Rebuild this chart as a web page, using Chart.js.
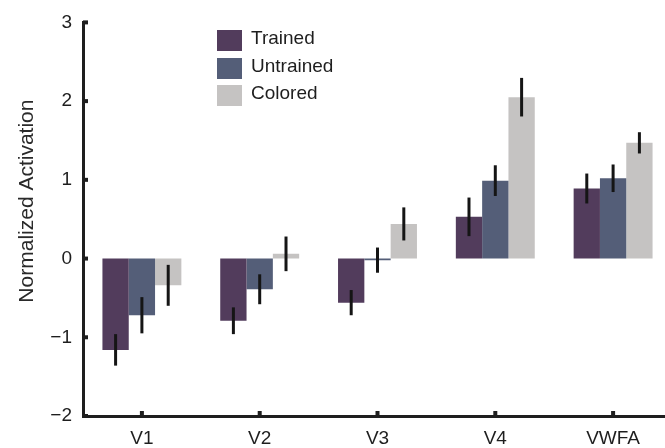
<!DOCTYPE html>
<html>
<head>
<meta charset="utf-8">
<script src="https://cdn.jsdelivr.net/npm/chart.js@4.4.0/dist/chart.umd.min.js"></script>
<style>
html,body{margin:0;padding:0;background:#fff;overflow:hidden;}
#wrap{position:relative;width:672px;height:448px;}
#legend{position:absolute;left:217px;top:30px;font-family:"Liberation Sans",Arial,sans-serif;font-size:19px;color:#1e1e1e;}
.item{position:relative;height:27.5px;}
.box{position:absolute;left:0;top:0;width:25px;height:21px;}
.lbl{position:absolute;left:34px;top:-3px;white-space:nowrap;}
</style>
</head>
<body>
<div id="wrap"><canvas id="chart" width="672" height="448"></canvas><div id="legend"></div></div>
<script>
// Data
const regions=['V1','V2','V3','V4','VWFA'];
const trained=[-1.16,-0.79,-0.56,0.53,0.89];
const trainedErr=[0.20,0.17,0.16,0.245,0.19];
const untrained=[-0.72,-0.39,-0.02,0.99,1.02];
const untrainedErr=[0.23,0.19,0.16,0.195,0.175];
const colored=[-0.34,0.06,0.44,2.05,1.47];
const coloredErr=[0.26,0.22,0.21,0.245,0.135];
const yTicks=[-2,-1,0,1,2,3];

const FONT='"Liberation Sans", Arial, sans-serif';
const INK='#1e1e1e';

// Error bars drawn from the y scale
const errorBars={
  id:'errorBars',
  afterDatasetsDraw(chart){
    const ctx=chart.ctx, y=chart.scales.y;
    ctx.save();
    ctx.strokeStyle='#151515';
    ctx.lineWidth=3;
    chart.data.datasets.forEach((ds,i)=>{
      chart.getDatasetMeta(i).data.forEach((bar,j)=>{
        const v=ds.data[j], e=ds.errors[j];
        ctx.beginPath();
        ctx.moveTo(bar.x,y.getPixelForValue(v+e));
        ctx.lineTo(bar.x,y.getPixelForValue(v-e));
        ctx.stroke();
      });
    });
    ctx.restore();
  }
};

// Inward tick marks + rotated y title
const axisExtras={
  id:'axisExtras',
  afterDraw(chart){
    const ctx=chart.ctx, x=chart.scales.x, y=chart.scales.y, a=chart.chartArea;
    ctx.save();
    ctx.fillStyle=INK;
    yTicks.forEach(t=>{ const py=y.getPixelForValue(t); ctx.fillRect(a.left,py-2,5,4); });
    regions.forEach((r,i)=>{ const px=x.getPixelForValue(i); ctx.fillRect(px-2,a.bottom-5,4,5); });
    ctx.translate(33,y.getPixelForValue(0.73));
    ctx.rotate(-Math.PI/2);
    ctx.font='21px '+FONT;
    ctx.fillStyle='#2a2a2a';
    ctx.textAlign='center';
    ctx.textBaseline='alphabetic';
    ctx.fillText('Normalized Activation',0,0);
    ctx.restore();
  }
};

const chart=new Chart(document.getElementById('chart').getContext('2d'),{
  type:'bar',
  data:{
    labels:regions,
    datasets:[
      {label:'Trained',data:trained,errors:trainedErr,backgroundColor:'#523c5c'},
      {label:'Untrained',data:untrained,errors:untrainedErr,backgroundColor:'#545e78'},
      {label:'Colored',data:colored,errors:coloredErr,backgroundColor:'#c5c3c2'}
    ]
  },
  options:{
    responsive:false,
    devicePixelRatio:1,
    animation:false,
    categoryPercentage:0.67,
    barPercentage:1,
    layout:{padding:{top:20,right:0,bottom:0,left:0}},
    plugins:{legend:{display:false},tooltip:{enabled:false}},
    scales:{
      x:{
        grid:{display:false,drawTicks:false},
        border:{display:true,color:INK,width:3},
        ticks:{padding:11,color:INK,font:{size:19,family:FONT}},
        afterFit:s=>{s.height=32;}
      },
      y:{
        min:-2,max:3,
        grid:{display:false,drawTicks:false},
        border:{display:true,color:INK,width:3},
        ticks:{stepSize:1,padding:11,color:INK,font:{size:19,family:FONT},
          callback:v=>String(v).replace('-','\u2212')},
        afterFit:s=>{s.width=83;}
      }
    }
  },
  plugins:[errorBars,axisExtras]
});

// HTML legend from the datasets
const legend=document.getElementById('legend');
chart.data.datasets.forEach(ds=>{
  const item=document.createElement('div');
  item.className='item';
  item.innerHTML=`<span class="box" style="background:${ds.backgroundColor}"></span><span class="lbl">${ds.label}</span>`;
  legend.appendChild(item);
});
</script>
</body>
</html>
